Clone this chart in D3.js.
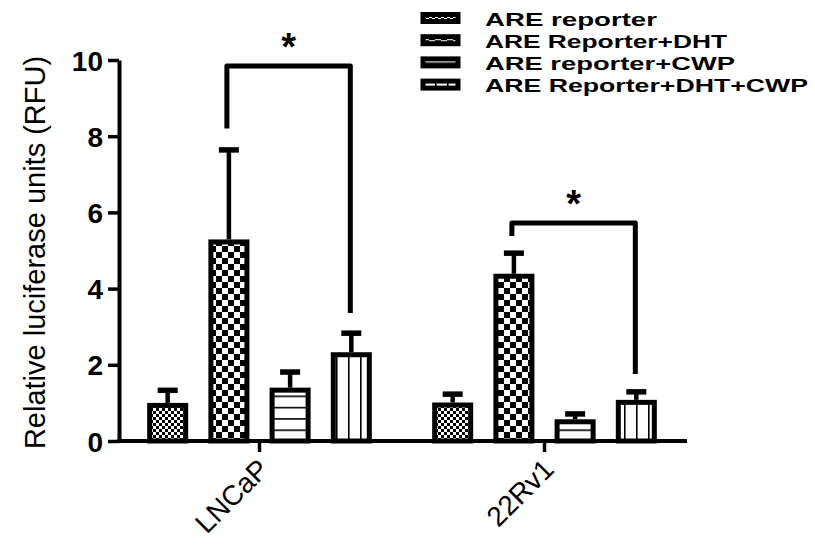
<!DOCTYPE html>
<html>
<head>
<meta charset="utf-8">
<script src="https://cdn.jsdelivr.net/npm/d3@7"></script>
<style>
  body { margin: 0; background: #fff; }
  text { font-family: Arial, "Liberation Sans", sans-serif; fill: #000; }
</style>
</head>
<body>
<div id="chart"></div>
<script>
// data
var groups = ["LNCaP", "22Rv1"];
var series = ["ARE reporter", "ARE Reporter+DHT", "ARE reporter+CWP", "ARE Reporter+DHT+CWP"];
var lncapMeans = [1.0, 5.29, 1.40, 2.33];
var lncapErr = [0.33, 2.35, 0.41, 0.50];
var rv1Means = [1.01, 4.39, 0.57, 1.08];
var rv1Err = [0.22, 0.54, 0.14, 0.21];
var yTicks = [0, 2, 4, 6, 8, 10];
// significance brackets: bar indices, top level, leg ends (data units)
var brackets = [
    {group: "LNCaP", from: 1, to: 3, top: 9.84, leftEnd: 8.2, rightEnd: 3.36, label: "*"},
    {group: "22Rv1", from: 1, to: 3, top: 5.72, leftEnd: 5.38, rightEnd: 1.76, label: "*"}
];

var svgWidth = 815;
var svgHeight = 547;
var margin = {top: 60, right: 128, bottom: 106, left: 119};
var height = svgHeight - margin.top - margin.bottom;

var svg = d3.select("#chart")
    .append("svg")
    .attr("width", svgWidth)
    .attr("height", svgHeight);

// patterns
var defs = svg.append("defs");

var p0 = defs.append("pattern").attr("id", "pat0")
    .attr("patternUnits", "userSpaceOnUse").attr("width", 6).attr("height", 6);
p0.append("rect").attr("width", 6).attr("height", 6).attr("fill", "#fff");
p0.append("rect").attr("width", 3).attr("height", 3).attr("fill", "#000");
p0.append("rect").attr("x", 3).attr("y", 3).attr("width", 3).attr("height", 3).attr("fill", "#000");

var p1 = defs.append("pattern").attr("id", "pat1")
    .attr("patternUnits", "userSpaceOnUse").attr("width", 12).attr("height", 12);
p1.append("rect").attr("width", 12).attr("height", 12).attr("fill", "#fff");
p1.append("rect").attr("width", 6).attr("height", 6).attr("fill", "#000");
p1.append("rect").attr("x", 6).attr("y", 6).attr("width", 6).attr("height", 6).attr("fill", "#000");

var p2 = defs.append("pattern").attr("id", "pat2")
    .attr("patternUnits", "userSpaceOnUse").attr("width", 10).attr("height", 11.3);
p2.append("rect").attr("width", 10).attr("height", 11.3).attr("fill", "#fff");
p2.append("rect").attr("y", 0).attr("width", 10).attr("height", 1.6).attr("fill", "#000");

var p3 = defs.append("pattern").attr("id", "pat3")
    .attr("patternUnits", "userSpaceOnUse").attr("width", 12).attr("height", 10);
p3.append("rect").attr("width", 12).attr("height", 10).attr("fill", "#fff");
p3.append("rect").attr("x", 0).attr("width", 1.6).attr("height", 10).attr("fill", "#000");

var patIds = ["url(#pat0)", "url(#pat1)", "url(#pat2)", "url(#pat3)"];

// scales
var x0 = d3.scaleBand()
    .domain(groups)
    .range([117, 687])
    .paddingInner(0.14)
    .paddingOuter(0.07);

var x1 = d3.scaleBand()
    .domain(d3.range(series.length))
    .range([0, x0.bandwidth()])
    .paddingInner(0.33)
    .paddingOuter(0.167);

var y = d3.scaleLinear()
    .domain([0, 10])
    .range([margin.top + height, margin.top]);

var tableData = [
    {group: "LNCaP", means: lncapMeans, err: lncapErr},
    {group: "22Rv1", means: rv1Means, err: rv1Err}
];
var bars = [];
tableData.forEach(function(g) {
    g.means.forEach(function(m, i) {
        bars.push({group: g.group, i: i, mean: m, err: g.err[i]});
    });
});

function barCenter(d) {
    return x0(d.group) + x1(d.i) + x1.bandwidth() / 2;
}

var sw = 5;
var chartGroup = svg.append("g");

// error bars (upward only)
chartGroup.selectAll(".errline")
    .data(bars)
    .enter()
    .append("line")
    .attr("x1", d => barCenter(d))
    .attr("x2", d => barCenter(d))
    .attr("y1", d => y(d.mean))
    .attr("y2", d => y(d.mean + d.err))
    .attr("stroke", "#000")
    .attr("stroke-width", 4.5);

chartGroup.selectAll(".errcap")
    .data(bars)
    .enter()
    .append("line")
    .attr("x1", d => barCenter(d) - 10)
    .attr("x2", d => barCenter(d) + 10)
    .attr("y1", d => y(d.mean + d.err))
    .attr("y2", d => y(d.mean + d.err))
    .attr("stroke", "#000")
    .attr("stroke-width", 5.5);

// bars
chartGroup.selectAll(".bar")
    .data(bars)
    .enter()
    .append("rect")
    .attr("x", d => x0(d.group) + x1(d.i) + sw / 2)
    .attr("y", d => y(d.mean) + sw / 2)
    .attr("width", x1.bandwidth() - sw)
    .attr("height", d => y(0) - y(d.mean) - sw / 2)
    .attr("fill", d => patIds[d.i])
    .attr("stroke", "#000")
    .attr("stroke-width", sw);

// y axis
var yAxis = svg.append("g")
    .attr("transform", `translate(${margin.left}, 0)`)
    .call(d3.axisLeft(y).tickValues(yTicks).tickSize(11).tickSizeOuter(0).tickPadding(5));
yAxis.select(".domain").attr("stroke-width", 4).attr("stroke", "#000");
yAxis.selectAll(".tick line").attr("stroke-width", 3.5).attr("stroke", "#000");
yAxis.selectAll(".tick text")
    .attr("font-size", 28)
    .attr("font-weight", "bold")
    .attr("fill", "#000")
    .attr("dy", "0.36em")
    .style("font-family", "Arial, 'Liberation Sans', sans-serif");

// x axis
var xAxis = svg.append("g")
    .attr("transform", `translate(0, ${y(0)})`)
    .call(d3.axisBottom(x0).tickSize(11).tickSizeOuter(0));
xAxis.select(".domain").attr("stroke-width", 4).attr("stroke", "#000")
    .attr("d", `M${margin.left - 2},0H687`);
xAxis.selectAll(".tick line").attr("stroke-width", 3.5).attr("stroke", "#000");
xAxis.selectAll(".tick text")
    .attr("font-size", 28)
    .attr("text-anchor", "end")
    .attr("y", 0)
    .attr("dy", 0)
    .attr("transform", "translate(11, 30) rotate(-45)")
    .style("font-family", "Arial, 'Liberation Sans', sans-serif");

// axis title
svg.append("text")
    .attr("transform", `translate(45, ${(y(0) + y(10)) / 2 + 2}) rotate(-90)`)
    .attr("text-anchor", "middle")
    .attr("font-size", 29)
    .text("Relative luciferase units (RFU)");

// significance brackets
brackets.forEach(function(b) {
    var xl = x0(b.group) + x1(b.from) + x1.bandwidth() / 2 - 2;
    var xr = x0(b.group) + x1(b.to) + x1.bandwidth() / 2 - 1;
    svg.append("path")
        .attr("d", `M${xl},${y(b.leftEnd)}V${y(b.top)}H${xr}V${y(b.rightEnd)}`)
        .attr("fill", "none")
        .attr("stroke", "#000")
        .attr("stroke-width", 5)
        .attr("stroke-linejoin", "round");
    svg.append("text")
        .attr("x", (xl + xr) / 2)
        .attr("y", y(b.top) - 6)
        .attr("text-anchor", "middle")
        .attr("font-size", 38)
        .attr("font-weight", "bold")
        .text(b.label);
});

// legend
var legendWidths = [172, 242, 250, 323];
var legend = svg.append("g").attr("transform", "translate(423, 18)");
series.forEach(function(s, i) {
    var row = legend.append("g").attr("transform", `translate(0, ${i * 22.2})`);
    row.append("rect")
        .attr("x", 0)
        .attr("y", -3.5)
        .attr("width", 35)
        .attr("height", 7)
        .attr("fill", patIds[i])
        .attr("stroke", "#000")
        .attr("stroke-width", 5);
    row.append("text")
        .attr("x", 62)
        .attr("y", 7.5)
        .attr("font-size", 19)
        .attr("font-weight", "bold")
        .attr("textLength", legendWidths[i])
        .attr("lengthAdjust", "spacingAndGlyphs")
        .text(s);
});
</script>
</body>
</html>
